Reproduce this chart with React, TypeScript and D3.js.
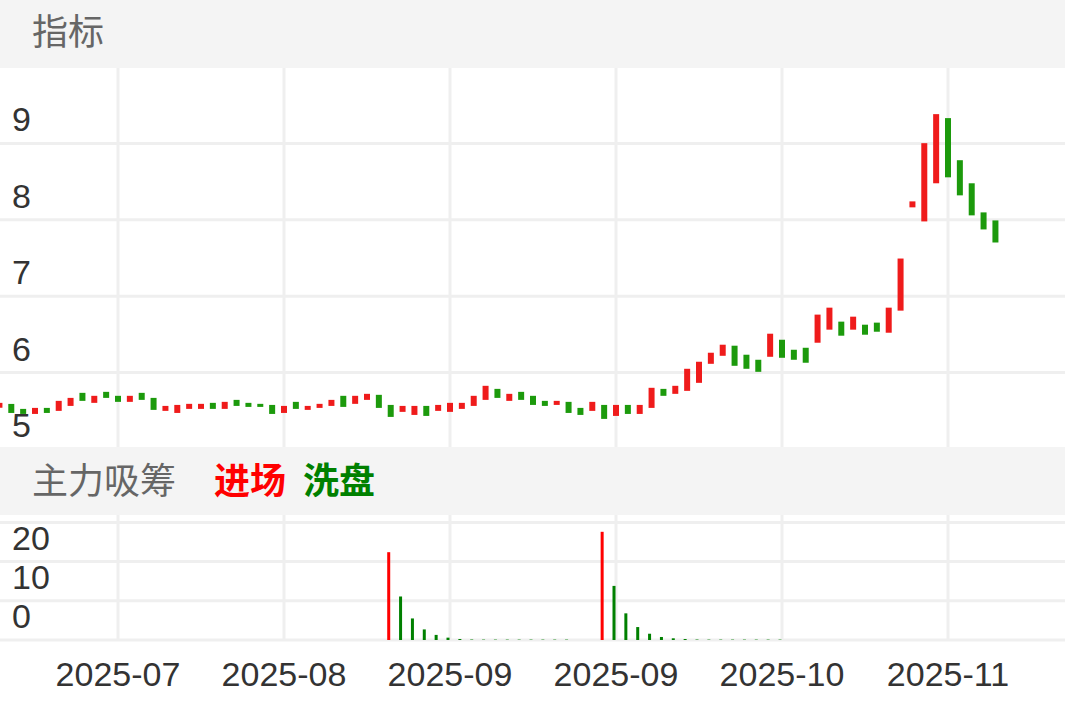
import React from 'react';
import * as d3 from 'd3';

const W = 1065;
const H = 708;

// candle data (index 0..84), Chinese convention: red = close > open
const opens = [
  5.54, 5.59, 5.525, 5.459, 5.538, 5.499, 5.564, 5.735, 5.604, 5.748,
  5.696, 5.617, 5.735, 5.669, 5.499, 5.472, 5.525, 5.525, 5.604, 5.525,
  5.643, 5.604, 5.591, 5.577, 5.472, 5.617, 5.512, 5.538, 5.564, 5.696,
  5.591, 5.643, 5.709, 5.577, 5.486, 5.446, 5.564, 5.499, 5.486, 5.525,
  5.564, 5.643, 5.787, 5.63, 5.748, 5.696, 5.63, 5.577, 5.617, 5.538,
  5.499, 5.577, 5.433, 5.577, 5.459, 5.538, 5.787, 5.722, 5.761, 5.866,
  6.115, 6.22, 6.352, 6.234, 6.168, 6.207, 6.43, 6.299, 6.325, 6.391,
  6.562, 6.667, 6.562, 6.627, 6.654, 6.522, 6.811, 8.163, 7.979, 8.478,
  9.331, 8.78, 8.478, 8.097, 7.992,
];
const closes = [
  5.604, 5.472, 5.459, 5.538, 5.472, 5.63, 5.669, 5.63, 5.696, 5.669,
  5.617, 5.696, 5.643, 5.512, 5.564, 5.577, 5.591, 5.591, 5.525, 5.617,
  5.564, 5.551, 5.551, 5.459, 5.564, 5.525, 5.564, 5.591, 5.643, 5.551,
  5.696, 5.722, 5.538, 5.42, 5.564, 5.564, 5.433, 5.577, 5.604, 5.604,
  5.696, 5.827, 5.669, 5.722, 5.643, 5.577, 5.564, 5.63, 5.472, 5.446,
  5.617, 5.394, 5.577, 5.459, 5.577, 5.801, 5.696, 5.827, 6.05, 6.142,
  6.26, 6.365, 6.089, 6.05, 6.01, 6.509, 6.194, 6.168, 6.129, 6.759,
  6.85, 6.483, 6.732, 6.496, 6.535, 6.85, 7.493, 8.241, 9.003, 9.383,
  8.556, 8.32, 8.058, 7.874, 7.703,
];

// 主力吸筹: 进场 (red) and 洗盘 (green)
const entryValues = [
  0, 0, 0, 0, 0, 0, 0, 0, 0, 0,
  0, 0, 0, 0, 0, 0, 0, 0, 0, 0,
  0, 0, 0, 0, 0, 0, 0, 0, 0, 0,
  0, 0, 0, 22.4, 0, 0, 0, 0, 0, 0,
  0, 0, 0, 0, 0, 0, 0, 0, 0, 0,
  0, 27.6, 0, 0, 0, 0, 0, 0, 0, 0,
  0, 0, 0, 0, 0, 0, 0, 0, 0, 0,
  0, 0, 0, 0, 0, 0, 0, 0, 0, 0,
  0, 0, 0, 0, 0,
];
const washValues = [
  0, 0, 0, 0, 0, 0, 0, 0, 0, 0,
  0, 0, 0, 0, 0, 0, 0, 0, 0, 0,
  0, 0, 0, 0, 0, 0, 0, 0, 0, 0,
  0, 0, 0, 0, 11.1, 5.5, 2.7, 1.3, 0.6, 0.25,
  0.12, 0.1, 0.1, 0.1, 0.1, 0.1, 0.1, 0.1, 0.1, 0,
  0, 0, 13.8, 6.8, 3.3, 1.6, 0.77, 0.43, 0.25, 0.12,
  0.1, 0.1, 0.1, 0.1, 0.1, 0.1, 0.1, 0, 0, 0,
  0, 0, 0, 0, 0, 0, 0, 0, 0, 0,
  0, 0, 0, 0, 0,
];

const priceTicks = [5, 6, 7, 8, 9];
const flowGridTicks = [0, 10, 20, 30];
const flowLabelTicks = [0, 10, 20];
const xTickIndex = [10, 24, 38, 52, 66, 80];
const xTickLabels = ['2025-07', '2025-08', '2025-09', '2025-09', '2025-10', '2025-11'];

const FONT = "'Liberation Sans', 'Noto Sans CJK SC', Arial, sans-serif";
const CJK = "'Noto Sans CJK SC', 'Liberation Sans', sans-serif";
const UP = '#ef1b1b';
const DOWN = '#1c9a0c';
const GRID = '#efefef';
const BAND = '#f4f4f4';

const MAIN_TOP = 68;
const MAIN_BOTTOM = 447;
const SUB_TOP = 515;
const SUB_BOTTOM = 640;

export default function App() {
  const x = d3.scaleLinear().domain([10, 80]).range([118, 948]);
  const y = d3.scaleLinear().domain([5, 10]).range([449, 67]);
  const yf = d3.scaleLinear().domain([0, 30]).range([SUB_BOTTOM, 522.4]);
  const candleW = 6;
  const barW = 3;
  const barShift = -2;

  return (
    <>
      <style>{`body{margin:0;}`}</style>
      <svg width={W} height={H} style={{ display: 'block', background: '#fff' }}>
        {/* main chart grid */}
        {priceTicks.map((t) => (
          <line key={'ph' + t} x1={0} x2={W} y1={y(t)} y2={y(t)} stroke={GRID} strokeWidth={3} />
        ))}
        {xTickIndex.map((i) => (
          <line key={'pv' + i} x1={x(i)} x2={x(i)} y1={MAIN_TOP} y2={MAIN_BOTTOM} stroke={GRID} strokeWidth={3} />
        ))}
        {/* sub chart grid */}
        {flowGridTicks.map((t) => (
          <line key={'fh' + t} x1={0} x2={W} y1={yf(t)} y2={yf(t)} stroke={GRID} strokeWidth={3} />
        ))}
        {xTickIndex.map((i) => (
          <line key={'fv' + i} x1={x(i)} x2={x(i)} y1={SUB_TOP} y2={SUB_BOTTOM} stroke={GRID} strokeWidth={3} />
        ))}

        {/* candles */}
        {opens.map((o, i) => {
          const c = closes[i];
          const top = y(Math.max(o, c));
          const bot = y(Math.min(o, c));
          return (
            <rect
              key={'c' + i}
              x={x(i) - candleW / 2}
              y={top}
              width={candleW}
              height={Math.max(bot - top, 1)}
              fill={c >= o ? UP : DOWN}
            />
          );
        })}

        {/* flow bars */}
        {entryValues.map((v, i) =>
          v > 0 ? (
            <rect key={'e' + i} x={x(i) - barW / 2 + barShift} y={yf(v)} width={barW} height={yf(0) - yf(v)} fill="#ff0000" />
          ) : null
        )}
        {washValues.map((v, i) =>
          v > 0 ? (
            <rect key={'w' + i} x={x(i) - barW / 2 + barShift} y={yf(v)} width={barW} height={yf(0) - yf(v)} fill="#008000" />
          ) : null
        )}

        {/* bands */}
        <rect x={0} y={0} width={W} height={MAIN_TOP} fill={BAND} />
        <rect x={0} y={MAIN_BOTTOM} width={W} height={SUB_TOP - MAIN_BOTTOM} fill={BAND} />
        <text x={32} y={45} fontFamily={CJK} fontSize={36} fill="#666">指标</text>
        <text x={32} y={494} fontFamily={CJK} fontSize={36} fill="#666">主力吸筹</text>
        <text x={214} y={494} fontFamily={CJK} fontSize={36} fontWeight="bold" fill="#ff0000">进场</text>
        <text x={303} y={494} fontFamily={CJK} fontSize={36} fontWeight="bold" fill="#008000">洗盘</text>

        {/* y labels */}
        {priceTicks.map((t) => (
          <text key={'pl' + t} x={12} y={y(t) - 12} fontFamily={FONT} fontSize={34} fill="#333">
            {t}
          </text>
        ))}
        {flowLabelTicks.map((t) => (
          <text key={'fl' + t} x={12} y={yf(t) - 12} fontFamily={FONT} fontSize={34} fill="#333">
            {t}
          </text>
        ))}

        {/* x labels */}
        {xTickIndex.map((i, k) => (
          <text key={'xl' + k} x={x(i)} y={686} textAnchor="middle" fontFamily={FONT} fontSize={34} fill="#333">
            {xTickLabels[k]}
          </text>
        ))}
      </svg>
    </>
  );
}
